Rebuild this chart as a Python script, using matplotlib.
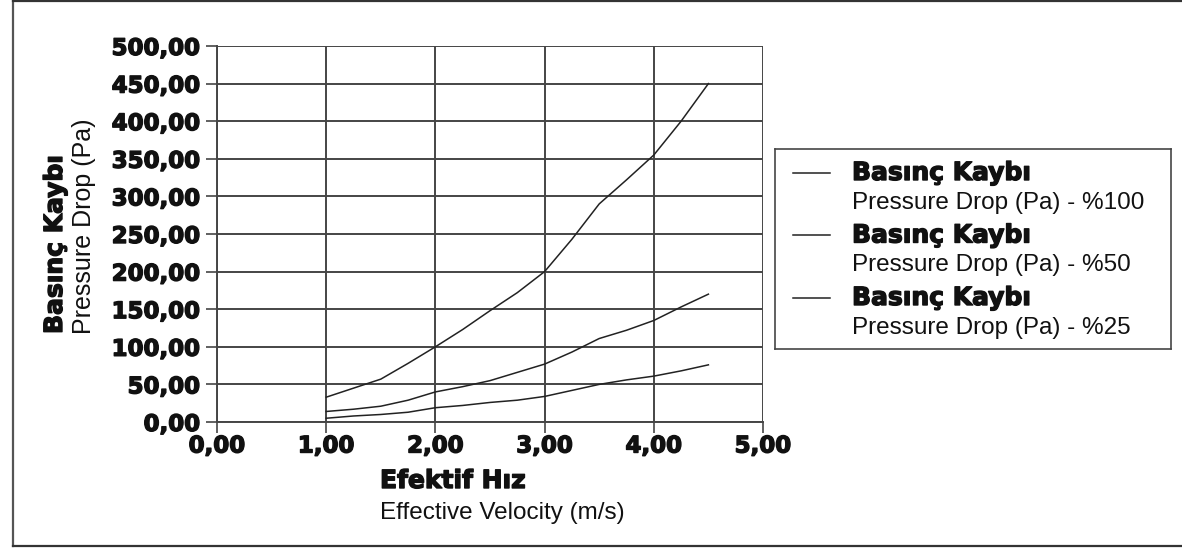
import matplotlib

matplotlib.use("Agg")
import matplotlib.pyplot as plt
import matplotlib.patheffects as pe
from matplotlib.lines import Line2D

# velocity (m/s) and pressure drop (Pa)
velocity = [1.00, 1.25, 1.50, 1.75, 2.00, 2.25, 2.50, 2.75, 3.00, 3.25, 3.50, 3.75, 4.00, 4.25, 4.50]
dp_100 = [33, 45, 57, 78, 100, 123, 148, 172, 200, 243, 290, 322, 355, 400, 450]
dp_50 = [14, 17, 21, 29, 40, 47, 55, 66, 77, 93, 111, 122, 135, 153, 170]
dp_25 = [5, 8, 10, 13, 19, 22, 26, 29, 34, 42, 50, 56, 61, 68, 76]

series_labels = ["%100", "%50", "%25"]
x_ticks = [0, 1, 2, 3, 4, 5]
y_ticks = [0, 50, 100, 150, 200, 250, 300, 350, 400, 450, 500]

# heavy "Arial Black" look: bold DejaVu with a thin outline
THICK = [pe.withStroke(linewidth=1.0, foreground="#111111")]
HEAVY = dict(family="DejaVu Sans", fontweight="bold", color="#111111", path_effects=THICK)
NORMAL = dict(family=["Liberation Sans", "DejaVu Sans"], color="#111111")
GRID = "#454545"

W, H = 1182, 548
fig = plt.figure(figsize=(W / 100, H / 100), dpi=100)
ax = fig.add_axes([217 / W, 1 - 422 / H, (763 - 217) / W, (422 - 46) / H])

for ys in (dp_100, dp_50, dp_25):
    ax.plot(velocity, ys, color="#222222", lw=1.1)

ax.set_xlim(0, 5)
ax.set_ylim(0, 500)
ax.set_xticks(x_ticks)
ax.set_yticks(y_ticks)
ax.set_xticklabels([f"{v:.2f}".replace(".", ",") for v in x_ticks], fontsize=16.5, **HEAVY)
ax.set_yticklabels([f"{v:.2f}".replace(".", ",") for v in y_ticks], fontsize=16.5, **HEAVY)
ax.grid(True, color=GRID, lw=1.4)
ax.tick_params(axis="y", length=8, width=1.2, color=GRID, pad=4)
ax.tick_params(axis="x", length=8, width=1.2, color=GRID, pad=1)
for side in ("top", "right"):
    ax.spines[side].set_visible(False)
for side in ("left", "bottom"):
    ax.spines[side].set_color(GRID)
    ax.spines[side].set_linewidth(1.4)

# axis titles (bold Turkish + plain English line)
fig.text(380 / W, 1 - 481 / H, "Efektif Hız", fontsize=18, va="center", ha="left", **HEAVY)
fig.text(380 / W, 1 - 513 / H, "Effective Velocity (m/s)", fontsize=17.5, va="center", ha="left", **NORMAL)
fig.text(55 / W, 1 - 334 / H, "Basınç Kaybı", fontsize=18, rotation=90, va="bottom", ha="center", **HEAVY)
fig.text(84 / W, 1 - 334 / H, "Pressure Drop (Pa)", fontsize=18, rotation=90, va="bottom", ha="center", **NORMAL)

# legend box drawn as its own axes
lg = fig.add_axes([775 / W, 1 - 349 / H, (1171 - 775) / W, (349 - 149) / H])
lg.set_xlim(775, 1171)
lg.set_ylim(349, 149)
lg.set_xticks([])
lg.set_yticks([])
for s in lg.spines.values():
    s.set_color(GRID)
    s.set_linewidth(1.2)
for i, lab in enumerate(series_labels):
    y0 = 173 + i * 62.5
    lg.add_line(Line2D([793, 830], [y0, y0], color="#222222", lw=1.1))
    lg.text(852, y0, "Basınç Kaybı", fontsize=18, va="center", ha="left", **HEAVY)
    lg.text(852, y0 + 30, f"Pressure Drop (Pa) - {lab}", fontsize=17.5, va="center", ha="left", **NORMAL)

# outer frame: left, top and bottom edges
fr = fig.add_axes([0, 0, 1, 1], zorder=-1)
fr.set_xlim(0, W)
fr.set_ylim(H, 0)
fr.axis("off")
fr.plot([13, 13], [1, 546], color="#555555", lw=1.6)
fr.plot([13, W], [1, 1], color="#333333", lw=1.6)
fr.plot([13, W], [546, 546], color="#333333", lw=1.6)

fig.savefig("out.png", dpi=100)
